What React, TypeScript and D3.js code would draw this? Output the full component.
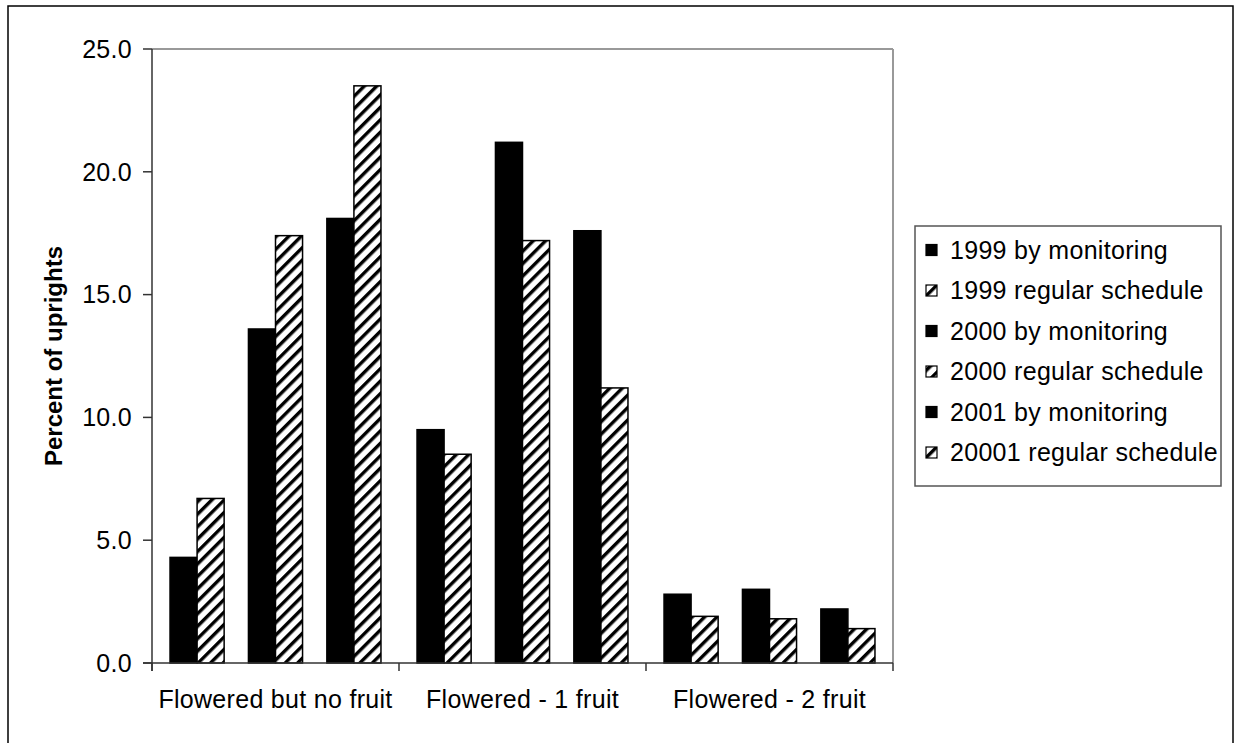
import React from "react";
import * as d3 from "d3";

const categories = ["Flowered but no fruit", "Flowered - 1 fruit", "Flowered - 2 fruit"];
const years = ["1999", "2000", "2001"];
const methods = ["monitoring", "regular"];

const mon1999 = [4.3, 9.5, 2.8];
const reg1999 = [6.7, 8.5, 1.9];
const mon2000 = [13.6, 21.2, 3.0];
const reg2000 = [17.4, 17.2, 1.8];
const mon2001 = [18.1, 17.6, 2.2];
const reg2001 = [23.5, 11.2, 1.4];

const legendLabels = [
  "1999 by monitoring",
  "1999 regular schedule",
  "2000 by monitoring",
  "2000 regular schedule",
  "2001 by monitoring",
  "20001 regular schedule",
];

const yTicks = [0, 5, 10, 15, 20, 25];
const yTitle = "Percent of uprights";

const W = 1235;
const H = 743;
const FONT = "'Liberation Sans', Arial, Helvetica, sans-serif";
const FS = 25;
const LS = 0.3;

export default function App() {
  const plot = { left: 152, right: 893, top: 49, bottom: 663 };
  const y = d3.scaleLinear().domain([0, 25]).range([plot.bottom, plot.top]);
  const x0 = d3.scaleBand<string>().domain(categories).range([plot.left, plot.right]).padding(0);
  const x1 = d3
    .scaleBand<string>()
    .domain(years)
    .range([0, x0.bandwidth()])
    .paddingInner(0.31)
    .paddingOuter(0.23);
  const x2 = d3.scaleBand<string>().domain(methods).range([0, x1.bandwidth()]).padding(0);

  const seriesByYear: Record<string, Record<string, number[]>> = {
    "1999": { monitoring: mon1999, regular: reg1999 },
    "2000": { monitoring: mon2000, regular: reg2000 },
    "2001": { monitoring: mon2001, regular: reg2001 },
  };

  const bars: React.ReactNode[] = [];
  categories.forEach((c, ci) => {
    years.forEach((yr) => {
      methods.forEach((m) => {
        const v = seriesByYear[yr][m][ci];
        const bx = (x0(c) ?? 0) + (x1(yr) ?? 0) + (x2(m) ?? 0);
        const by = y(v);
        bars.push(
          <rect
            key={`${c}-${yr}-${m}`}
            x={bx}
            y={by}
            width={x2.bandwidth()}
            height={y(0) - by}
            fill={m === "monitoring" ? "#000" : "url(#hatch)"}
            stroke="#000"
            strokeWidth={1.5}
          />
        );
      });
    });
  });

  const xTickPos = [...categories.map((c) => x0(c) ?? 0), plot.right];

  const legend = { x: 915, y: 226, w: 306, h: 260, row0: 250, rowStep: 40.5 };
  const yMid = (plot.top + plot.bottom) / 2;

  return (
    <svg
      width={W}
      height={H}
      style={{ position: "absolute", left: 0, top: 0, background: "#fff" }}
      fontFamily={FONT}
    >
      <defs>
        <pattern
          id="hatch"
          patternUnits="userSpaceOnUse"
          width={8.8}
          height={8.8}
          patternTransform="rotate(45)"
        >
          <rect x={0} y={0} width={8.8} height={8.8} fill="#fff" />
          <rect x={0} y={0} width={3.4} height={8.8} fill="#000" />
        </pattern>
      </defs>

      {/* outer border */}
      <rect x={8} y={6} width={1225} height={760} fill="#fff" stroke="#000" strokeWidth={1.5} />

      {/* plot area border (top/right) */}
      <line x1={plot.left} x2={plot.right} y1={plot.top} y2={plot.top} stroke="#999" strokeWidth={2} />
      <line x1={plot.right} x2={plot.right} y1={plot.top} y2={plot.bottom} stroke="#999" strokeWidth={2} />

      {bars}

      {/* y axis */}
      <line x1={plot.left} x2={plot.left} y1={plot.top} y2={plot.bottom + 8} stroke="#333" strokeWidth={1.5} />
      {yTicks.map((t) => (
        <g key={t}>
          <line x1={plot.left - 9} x2={plot.left} y1={y(t)} y2={y(t)} stroke="#333" strokeWidth={1.5} />
          <text
            x={132}
            y={y(t)}
            dy="0.35em"
            textAnchor="end"
            fontSize={FS}
            letterSpacing={LS}
            fill="#000"
          >
            {d3.format(".1f")(t)}
          </text>
        </g>
      ))}

      {/* x axis */}
      <line x1={plot.left - 9} x2={plot.right} y1={plot.bottom} y2={plot.bottom} stroke="#333" strokeWidth={1.5} />
      {xTickPos.map((p, i) => (
        <line key={i} x1={p} x2={p} y1={plot.bottom} y2={plot.bottom + 8} stroke="#333" strokeWidth={1.5} />
      ))}
      {categories.map((c) => (
        <text
          key={c}
          x={(x0(c) ?? 0) + x0.bandwidth() / 2}
          y={708}
          textAnchor="middle"
          fontSize={FS}
          letterSpacing={LS}
          fill="#000"
        >
          {c}
        </text>
      ))}

      {/* y title */}
      <text
        x={62}
        y={yMid}
        transform={`rotate(-90, 62, ${yMid})`}
        textAnchor="middle"
        fontSize={24}
        fontWeight="bold"
        fill="#000"
      >
        {yTitle}
      </text>

      {/* legend */}
      <rect x={legend.x} y={legend.y} width={legend.w} height={legend.h} fill="#fff" stroke="#555" strokeWidth={1.5} />
      {legendLabels.map((l, i) => {
        const cy = legend.row0 + i * legend.rowStep;
        const hatched = i % 2 === 1;
        return (
          <g key={l}>
            <rect
              x={926}
              y={cy - 5.5}
              width={11}
              height={11}
              fill={hatched ? "url(#hatch)" : "#000"}
              stroke="#000"
              strokeWidth={1.2}
            />
            <text x={950} y={cy} dy="0.35em" fontSize={FS} letterSpacing={LS} fill="#000">
              {l}
            </text>
          </g>
        );
      })}
    </svg>
  );
}
